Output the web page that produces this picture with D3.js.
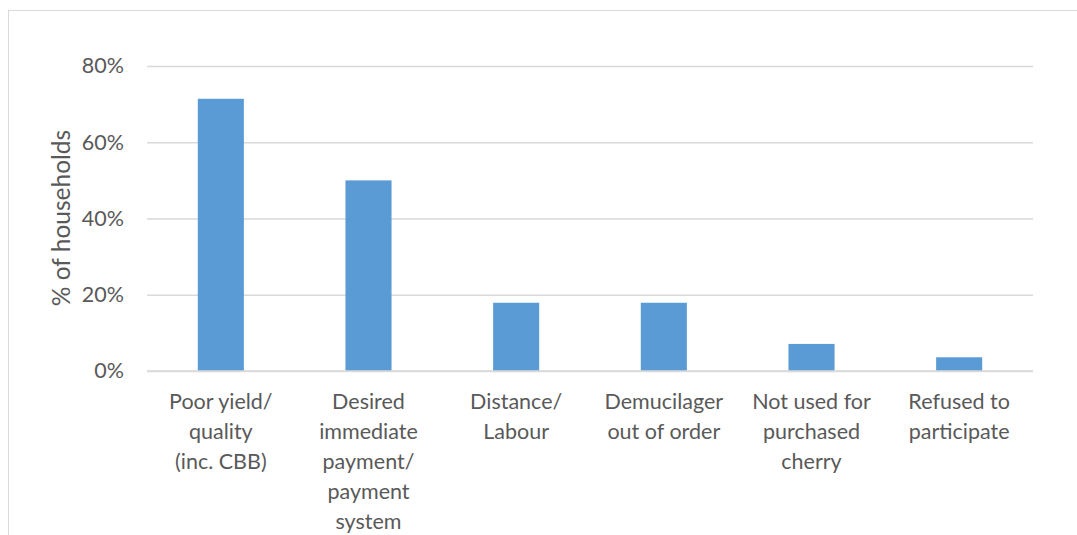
<!DOCTYPE html>
<html>
<head>
<meta charset="utf-8">
<script src="https://cdn.jsdelivr.net/npm/d3@7"></script>
<style>
  html, body { margin: 0; padding: 0; background: #fff; }
  svg { display: block; }
  text { font-family: Lato, "Open Sans", sans-serif; fill: #595959; }
</style>
</head>
<body>
<svg id="chart" width="1077" height="535"></svg>
<script>
const categories = [
  ["Poor yield/", "quality", "(inc. CBB)"],
  ["Desired", "immediate", "payment/", "payment", "system"],
  ["Distance/", "Labour"],
  ["Demucilager", "out of order"],
  ["Not used for", "purchased", "cherry"],
  ["Refused to", "participate"]
];
const values = [0.714, 0.50, 0.179, 0.179, 0.071, 0.036];
const yTicks = [0, 0.2, 0.4, 0.6, 0.8];
const yTitle = "% of households";

const svg = d3.select("#chart");
const mLeft = 147, mRight = 1033, mTop = 66, mBottom = 371;
const fs = 21.5;

// chart border
svg.append("rect")
  .attr("x", 8.5).attr("y", 10.5)
  .attr("width", 1080).attr("height", 540)
  .attr("fill", "none").attr("stroke", "#d9d9d9").attr("stroke-width", 1);

const x = d3.scaleBand().domain(d3.range(categories.length)).range([mLeft, mRight]).padding(0);
const y = d3.scaleLinear().domain([0, 0.8]).range([mBottom, mTop]);
const barW = x.bandwidth() * 0.312;

// gridlines
const yAxis = d3.axisLeft(y).tickValues(yTicks).tickFormat(d3.format(".0%"))
  .tickSize(-(mRight - mLeft)).tickPadding(23);
const gy = svg.append("g").attr("transform", `translate(${mLeft},0)`).call(yAxis);
gy.select(".domain").remove();
gy.selectAll(".tick line").attr("stroke", "#d9d9d9").attr("stroke-width", 1.5);
gy.selectAll(".tick text").attr("font-size", fs).attr("fill", "#595959")
  .style("font-family", "Lato, sans-serif");

// bars
svg.append("g").selectAll("rect").data(values).join("rect")
  .attr("x", (d, i) => x(i) + x.bandwidth() / 2 - barW / 2)
  .attr("width", barW)
  .attr("y", d => y(d))
  .attr("height", d => y(0) - y(d))
  .attr("fill", "#5b9bd5");

// redraw baseline above bars
svg.append("line").attr("x1", mLeft).attr("x2", mRight)
  .attr("y1", y(0)).attr("y2", y(0))
  .attr("stroke", "#d9d9d9").attr("stroke-width", 1.5);

// category labels
const cl = svg.append("g").selectAll("text").data(categories).join("text")
  .attr("text-anchor", "middle")
  .attr("font-size", fs)
  .attr("x", (d, i) => x(i) + x.bandwidth() / 2)
  .attr("y", 409);
cl.selectAll("tspan").data(d => d).join("tspan")
  .attr("x", function() { return d3.select(this.parentNode).attr("x"); })
  .attr("dy", (d, i) => i === 0 ? 0 : 30)
  .text(d => d);

// y title
svg.append("text")
  .attr("transform", `translate(70,218) rotate(-90)`)
  .attr("text-anchor", "middle")
  .attr("font-size", 24.5)
  .text(yTitle);
</script>
</body>
</html>
